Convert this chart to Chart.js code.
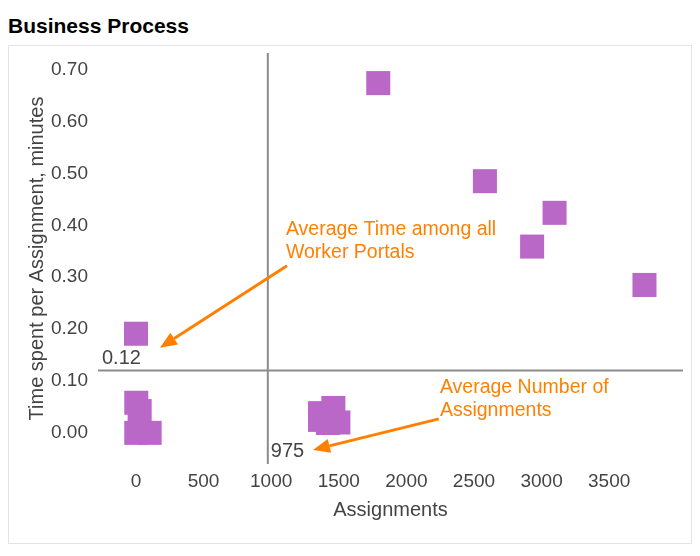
<!DOCTYPE html>
<html>
<head>
<meta charset="utf-8">
<script src="https://cdn.jsdelivr.net/npm/chart.js@4"></script>
<style>
  body { margin: 0; background: #fff; font-family: "Liberation Sans", Arial, sans-serif; }
  #title { position: absolute; left: 8px; top: 13px; font-size: 21px; font-weight: bold; color: #000; line-height: 26px; }
  #frame { position: absolute; left: 8px; top: 45px; width: 682px; height: 497px; border: 1px solid #e3e3e3; }
</style>
</head>
<body>
<div id="title">Business Process</div>
<div id="frame"><canvas id="myChart" width="682" height="497"></canvas></div>
<script>
// assignments vs minutes per assignment, one point per worker portal
const assignments = [1792, 2581, 3096, 2930, 3761, 0, 2, 27, 2, 101, 1460, 1361, 1497, 1420, 1361];
const minutes = [0.674, 0.485, 0.424, 0.359, 0.285, 0.191, 0.058, 0.042, 0, 0, 0.048, 0.038, 0.020, 0.019, 0.025];
const xTicks = [0, 500, 1000, 1500, 2000, 2500, 3000, 3500];
const yTicks = [0, 0.1, 0.2, 0.3, 0.4, 0.5, 0.6, 0.7];
const avgAssignments = 975;
const avgMinutes = 0.12;

// annotation text (anchored in data coords) and arrows: [fromX, fromY, toX, toY]
const notes = [
  { x: 1109, y: 0.382, lines: ["Average Time among all", "Worker Portals"] },
  { x: 2248, y: 0.077, lines: ["Average Number of", "Assignments"] },
];
const arrows = [
  [1117, 0.322, 177, 0.164],
  [2240, 0.027, 1309, -0.033],
];

const FONT = "'Liberation Sans', Arial, sans-serif";
const orange = "#ff8000";

const refLines = {
  id: "refLines",
  beforeDatasetsDraw(chart) {
    const { ctx, chartArea: a, scales: { x, y } } = chart;
    const px = x.getPixelForValue(avgAssignments);
    const py = y.getPixelForValue(avgMinutes);
    ctx.save();
    ctx.strokeStyle = "#8c8c8c";
    ctx.lineWidth = 2;
    ctx.beginPath();
    ctx.moveTo(px, a.top);
    ctx.lineTo(px, a.bottom);
    ctx.moveTo(a.left, py);
    ctx.lineTo(a.right, py);
    ctx.stroke();

    ctx.fillStyle = "#444";
    ctx.font = "20px " + FONT;
    ctx.textBaseline = "alphabetic";
    ctx.textAlign = "left";
    ctx.fillText(avgMinutes.toFixed(2), a.left + 4, py - 7);
    ctx.fillText(String(avgAssignments), px + 3, a.bottom - 7);
    ctx.restore();
  },
  afterDatasetsDraw(chart) {
    const { ctx, scales: { x, y } } = chart;
    ctx.save();
    ctx.fillStyle = orange;
    ctx.font = "19.5px " + FONT;
    ctx.textAlign = "left";
    ctx.textBaseline = "alphabetic";
    notes.forEach(n => {
      const nx = x.getPixelForValue(n.x);
      const ny = y.getPixelForValue(n.y);
      n.lines.forEach((t, i) => ctx.fillText(t, nx, ny + i * 23));
    });

    ctx.strokeStyle = orange;
    ctx.lineWidth = 3;
    arrows.forEach(([x1, y1, x2, y2]) => {
      const ax = x.getPixelForValue(x1), ay = y.getPixelForValue(y1);
      const bx = x.getPixelForValue(x2), by = y.getPixelForValue(y2);
      const ang = Math.atan2(by - ay, bx - ax);
      const head = 17, half = 7;
      const hx = bx - head * Math.cos(ang), hy = by - head * Math.sin(ang);
      ctx.beginPath();
      ctx.moveTo(ax, ay);
      ctx.lineTo(hx, hy);
      ctx.stroke();
      ctx.beginPath();
      ctx.moveTo(bx, by);
      ctx.lineTo(hx + half * Math.sin(ang), hy - half * Math.cos(ang));
      ctx.lineTo(hx - half * Math.sin(ang), hy + half * Math.cos(ang));
      ctx.closePath();
      ctx.fill();
    });
    ctx.restore();
  },
};

new Chart(document.getElementById("myChart"), {
  type: "scatter",
  data: {
    datasets: [{
      label: "Worker Portals",
      data: assignments.map((a, i) => ({ x: a, y: minutes[i] })),
      pointStyle: "rect",
      pointRadius: 17,
      pointHoverRadius: 17,
      backgroundColor: "#ba68c8",
      borderWidth: 0,
    }],
  },
  options: {
    responsive: false,
    animation: false,
    layout: { autoPadding: false, padding: { left: 8, right: 8, top: 7, bottom: 10 } },
    plugins: {
      legend: { display: false },
      tooltip: { enabled: false },
    },
    scales: {
      x: {
        type: "linear",
        min: -281,
        max: 4046,
        grid: { display: false, drawTicks: false },
        border: { display: false },
        afterBuildTicks: s => { s.ticks = xTicks.map(v => ({ value: v })); },
        afterFit: s => { s.height = 69; s.paddingLeft = 0; s.paddingRight = 0; },
        ticks: {
          color: "#444",
          padding: 6,
          font: { family: FONT, size: 19 },
          callback: v => String(v),
        },
        title: {
          display: true,
          text: "Assignments",
          color: "#444",
          padding: { bottom: 11 },
          font: { family: FONT, size: 20 },
        },
      },
      y: {
        type: "linear",
        min: -0.06,
        max: 0.732,
        grid: { display: false, drawTicks: false },
        border: { display: false },
        afterBuildTicks: s => { s.ticks = yTicks.map(v => ({ value: v })); },
        afterFit: s => { s.width = 81; s.paddingTop = 0; s.paddingBottom = 0; },
        ticks: {
          color: "#444",
          padding: 10,
          font: { family: FONT, size: 19 },
          callback: v => v.toFixed(2),
        },
        title: {
          display: true,
          text: "Time spent per Assignment, minutes",
          color: "#444",
          padding: { top: 8 },
          font: { family: FONT, size: 20 },
        },
      },
    },
  },
  plugins: [refLines],
});
</script>
</body>
</html>
